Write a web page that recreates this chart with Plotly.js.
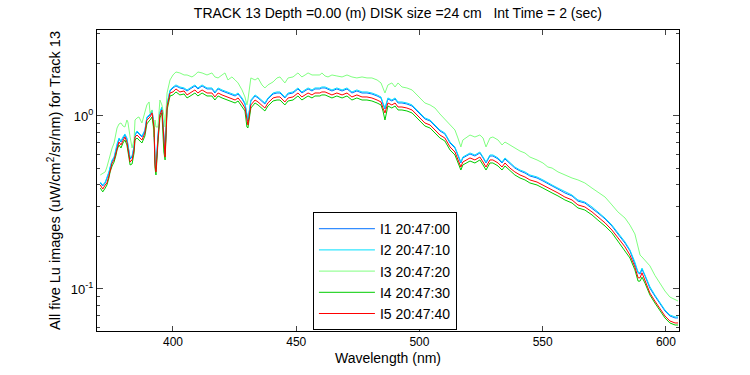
<!DOCTYPE html>
<html><head><meta charset="utf-8">
<script src="https://cdn.plot.ly/plotly-3.0.1.min.js"></script>
<style>html,body{margin:0;padding:0;background:#fff}#chart{width:750px;height:375px}</style>
</head><body><div id="chart"></div>
<script>
const wavelength = [
370.5,371.5,372.5,373.2,374.0,374.5,375.3,376.1,376.9,377.3,
378.1,378.9,379.7,380.5,381.3,381.7,382.6,383.4,384.2,384.6,
385.4,386.2,387.4,388.6,389.4,390.3,390.7,391.5,392.3,392.7,
393.1,393.9,394.7,395.5,396.3,396.8,397.6,398.8,400.0,401.2,
402.8,404.5,405.7,407.7,408.9,410.1,411.8,413.8,415.8,417.0,
418.3,419.9,421.1,422.3,423.9,425.2,426.4,428.0,429.2,430.0,
430.4,431.6,433.3,434.5,436.1,437.3,438.5,440.6,442.2,443.4,
445.4,446.7,448.7,450.7,452.3,453.6,454.8,456.4,457.6,459.6,
460.4,461.7,462.9,464.5,466.5,468.6,470.6,472.6,474.6,476.7,
478.7,480.7,482.8,484.4,485.2,486.0,487.2,488.8,490.1,491.3,
492.9,494.9,497.0,499.0,501.0,502.2,504.3,506.3,508.3,510.3,
512.4,514.4,515.6,516.8,517.6,519.3,520.5,522.5,524.5,525.8,
527.0,528.6,529.8,531.9,533.5,534.7,536.7,538.7,540.8,542.8,
544.8,547.7,550.1,552.1,553.8,556.2,559.0,561.9,564.3,567.1,
570.0,572.4,575.3,578.1,580.5,583.4,585.4,587.4,588.7,589.5,
590.3,591.5,593.5,595.5,597.6,599.6,601.6,603.7,604.9];

const lu_I1 = [
0.410,0.394,0.410,0.432,0.468,0.500,0.549,0.572,0.644,0.680,
0.736,0.707,0.746,0.776,0.736,0.689,0.564,0.579,0.662,0.776,
0.808,0.787,0.756,0.819,0.974,1.000,1.013,1.069,0.887,0.549,
0.494,0.756,1.041,1.112,0.689,0.603,1.158,1.395,1.452,1.491,
1.452,1.433,1.395,1.452,1.491,1.433,1.491,1.433,1.433,1.358,
1.433,1.395,1.377,1.358,1.323,1.305,1.340,1.254,1.173,0.974,
0.936,1.221,1.305,1.271,1.221,1.173,1.254,1.340,1.358,1.358,
1.271,1.340,1.358,1.433,1.358,1.395,1.433,1.395,1.433,1.433,
1.452,1.452,1.433,1.395,1.433,1.395,1.433,1.358,1.395,1.358,
1.358,1.340,1.305,1.271,1.173,1.098,1.254,1.221,1.254,1.189,
1.189,1.173,1.142,1.069,0.987,0.961,0.936,0.875,0.819,0.787,
0.698,0.653,0.587,0.535,0.572,0.587,0.603,0.587,0.611,0.572,
0.535,0.587,0.587,0.564,0.535,0.564,0.528,0.500,0.481,0.468,
0.450,0.438,0.421,0.404,0.394,0.378,0.359,0.345,0.322,0.314,
0.294,0.275,0.254,0.231,0.208,0.184,0.166,0.141,0.124,0.122,
0.130,0.119,0.101,0.0910,0.0819,0.0746,0.0698,0.0680,0.0680];

const lu_I2 = [
0.415,0.399,0.415,0.438,0.475,0.507,0.557,0.579,0.653,0.689,
0.746,0.717,0.756,0.787,0.746,0.698,0.572,0.587,0.671,0.787,
0.819,0.797,0.766,0.830,0.987,1.013,1.027,1.083,0.899,0.557,
0.500,0.766,1.055,1.127,0.698,0.611,1.173,1.414,1.471,1.511,
1.471,1.452,1.414,1.471,1.511,1.452,1.511,1.452,1.452,1.377,
1.452,1.414,1.395,1.377,1.340,1.323,1.358,1.271,1.189,0.987,
0.948,1.237,1.323,1.288,1.237,1.189,1.271,1.358,1.377,1.377,
1.288,1.358,1.377,1.452,1.377,1.414,1.452,1.414,1.452,1.452,
1.471,1.471,1.452,1.414,1.452,1.414,1.452,1.377,1.414,1.377,
1.377,1.358,1.323,1.288,1.189,1.112,1.271,1.237,1.271,1.205,
1.205,1.189,1.158,1.083,1.000,0.974,0.948,0.887,0.830,0.797,
0.707,0.662,0.595,0.542,0.579,0.595,0.611,0.595,0.619,0.579,
0.542,0.595,0.595,0.572,0.542,0.572,0.535,0.507,0.487,0.475,
0.456,0.444,0.427,0.410,0.399,0.383,0.364,0.349,0.327,0.318,
0.298,0.279,0.257,0.234,0.211,0.187,0.168,0.143,0.125,0.124,
0.132,0.120,0.103,0.0923,0.0830,0.0756,0.0707,0.0689,0.0689];

const lu_I3 = [
0.456,0.468,0.475,0.507,0.557,0.611,0.653,0.698,0.776,0.852,
0.899,0.911,0.875,0.864,0.948,0.923,0.756,0.653,0.726,0.948,
0.974,0.987,0.911,1.041,1.158,1.205,1.041,1.083,0.756,0.948,
0.864,0.864,1.237,1.158,1.013,0.864,1.358,1.615,1.726,1.796,
1.773,1.726,1.726,1.681,1.726,1.796,1.773,1.726,1.773,1.681,
1.659,1.726,1.773,1.615,1.681,1.615,1.552,1.414,1.288,1.158,
1.237,1.659,1.615,1.659,1.511,1.452,1.511,1.573,1.659,1.681,
1.552,1.659,1.681,1.773,1.681,1.726,1.773,1.726,1.726,1.726,
1.773,1.703,1.681,1.726,1.703,1.681,1.726,1.681,1.659,1.681,
1.659,1.659,1.615,1.552,1.452,1.358,1.511,1.552,1.471,1.552,
1.471,1.452,1.414,1.323,1.221,1.189,1.158,1.112,1.027,0.961,
0.899,0.830,0.746,0.662,0.726,0.756,0.776,0.756,0.776,0.746,
0.662,0.746,0.756,0.726,0.680,0.707,0.680,0.653,0.627,0.611,
0.579,0.557,0.535,0.507,0.500,0.475,0.456,0.438,0.427,0.410,
0.383,0.364,0.340,0.306,0.279,0.257,0.234,0.208,0.177,0.157,
0.153,0.147,0.136,0.120,0.107,0.0973,0.0898,0.0863,0.0852];

const lu_I4 = [
0.383,0.364,0.383,0.399,0.438,0.475,0.514,0.542,0.595,0.636,
0.680,0.653,0.698,0.726,0.680,0.636,0.521,0.528,0.611,0.726,
0.746,0.726,0.698,0.766,0.899,0.936,0.948,0.987,0.830,0.500,
0.456,0.698,0.974,1.041,0.619,0.557,1.083,1.305,1.323,1.377,
1.323,1.340,1.271,1.323,1.358,1.305,1.358,1.305,1.305,1.237,
1.305,1.271,1.254,1.237,1.205,1.189,1.221,1.142,1.069,0.864,
0.852,1.112,1.189,1.158,1.112,1.069,1.142,1.221,1.237,1.237,
1.158,1.221,1.237,1.305,1.237,1.271,1.305,1.271,1.305,1.305,
1.323,1.323,1.305,1.271,1.305,1.271,1.305,1.237,1.271,1.237,
1.237,1.221,1.189,1.158,1.069,0.948,1.142,1.112,1.142,1.083,
1.083,1.069,1.041,0.974,0.899,0.875,0.852,0.797,0.746,0.717,
0.636,0.595,0.535,0.487,0.521,0.535,0.549,0.535,0.557,0.521,
0.487,0.535,0.535,0.514,0.487,0.514,0.481,0.456,0.438,0.427,
0.410,0.399,0.383,0.368,0.359,0.345,0.327,0.314,0.294,0.286,
0.268,0.250,0.231,0.211,0.189,0.168,0.151,0.129,0.111,0.111,
0.117,0.108,0.0923,0.0830,0.0746,0.0680,0.0636,0.0619,0.0619];

const lu_I5 = [
0.399,0.378,0.399,0.410,0.450,0.487,0.535,0.557,0.619,0.653,
0.707,0.680,0.726,0.756,0.707,0.662,0.542,0.557,0.636,0.756,
0.776,0.756,0.726,0.797,0.948,0.974,0.987,1.041,0.864,0.521,
0.475,0.726,1.013,1.083,0.662,0.579,1.127,1.358,1.377,1.433,
1.377,1.395,1.323,1.377,1.414,1.358,1.414,1.358,1.358,1.288,
1.358,1.323,1.305,1.288,1.254,1.237,1.271,1.189,1.112,0.911,
0.887,1.158,1.237,1.205,1.158,1.112,1.189,1.271,1.288,1.288,
1.205,1.271,1.288,1.358,1.288,1.323,1.358,1.323,1.358,1.358,
1.377,1.377,1.358,1.323,1.358,1.323,1.358,1.288,1.323,1.288,
1.288,1.271,1.237,1.205,1.112,1.041,1.189,1.158,1.189,1.127,
1.127,1.112,1.083,1.013,0.936,0.911,0.887,0.830,0.776,0.746,
0.662,0.619,0.557,0.507,0.542,0.557,0.572,0.557,0.579,0.542,
0.507,0.557,0.557,0.535,0.507,0.535,0.500,0.475,0.456,0.444,
0.427,0.415,0.399,0.383,0.373,0.359,0.340,0.327,0.306,0.298,
0.279,0.261,0.241,0.219,0.197,0.175,0.157,0.134,0.116,0.116,
0.124,0.111,0.0947,0.0852,0.0766,0.0698,0.0653,0.0636,0.0636];

const seriesNames = ['I1 20:47:00','I2 20:47:10','I3 20:47:20','I4 20:47:30','I5 20:47:40'];
const seriesColors = ['#0070ff','#00e0ff','#80ff80','#00cc00','#ff0000'];
const seriesValues = [lu_I1, lu_I2, lu_I3, lu_I4, lu_I5];

const xTickVals = [400,450,500,550,600];
const yTickVals = [0.1,1];
const yTickText = ['10<sup>-1</sup>','10<sup>0</sup>'];
const yMinorVals = [0.06,0.07,0.08,0.09,0.2,0.3,0.4,0.5,0.6,0.7,0.8,0.9,2,3];

const FONT = 'Liberation Sans, Arial, sans-serif';

const traces = seriesValues.map((v,i)=>({
  x: wavelength, y: v, type:'scatter', mode:'lines', name: seriesNames[i],
  line:{color: seriesColors[i], width:1}
}));

const layout = {
  width:750, height:375,
  margin:{l:97, r:71, t:30, b:44},
  paper_bgcolor:'#fff', plot_bgcolor:'#fff',
  font:{family:FONT, size:12, color:'#000'},
  title:{text:'TRACK 13 Depth =0.00 (m) DISK size =24 cm\u00A0\u00A0\u00A0Int Time = 2 (sec)',
    font:{family:FONT, size:14, color:'#000'}, x:0.517, xanchor:'center', xref:'paper',
    y:0.966, yanchor:'middle', yref:'container'},
  xaxis:{range:[369.17,605.3], tickmode:'array', tickvals:xTickVals, ticks:'inside', ticklen:5,
    showline:true, linecolor:'#000', linewidth:1, mirror:'ticks', showgrid:false, zeroline:false,
    tickfont:{size:12}, title:{text:'Wavelength (nm)', font:{size:14}, standoff:4}},
  yaxis:{type:'log', range:[-1.243,0.497], tickmode:'array', tickvals:yTickVals, ticktext:yTickText,
    ticks:'inside', ticklen:6, showline:true, linecolor:'#000', linewidth:1, mirror:'ticks',
    showgrid:false, zeroline:false, tickfont:{size:13},
    minor:{tickmode:'array', tickvals:yMinorVals, ticks:'inside', ticklen:3, showgrid:false},
    title:{text:'All five Lu images (uW/cm<sup>2</sup>/sr/nm) for Track 13', font:{size:14.5}, standoff:6}},
  showlegend:true,
  legend:{x:0.371, y:0.395, xanchor:'left', yanchor:'top', bgcolor:'#fff', bordercolor:'#000',
    borderwidth:1, font:{size:14}, itemwidth:56, tracegroupgap:0}
};

Plotly.newPlot('chart', traces, layout, {displayModeBar:false, staticPlot:true});
</script></body></html>
